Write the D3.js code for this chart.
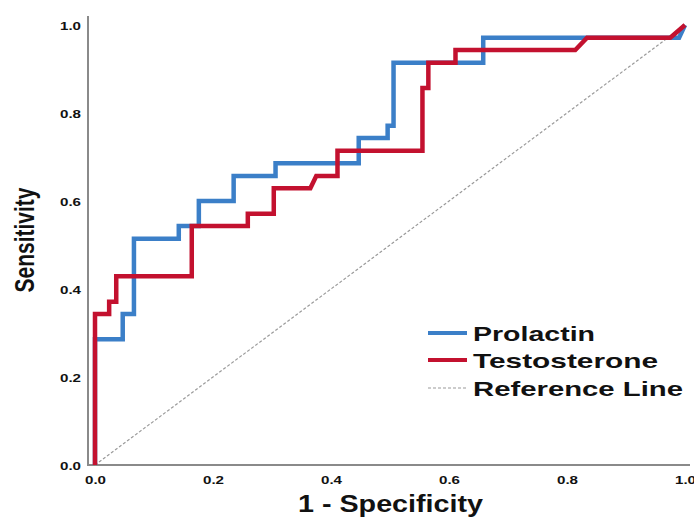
<!DOCTYPE html>
<html>
<head>
<meta charset="utf-8">
<script src="https://cdn.jsdelivr.net/npm/d3@7"></script>
<style>
  body { margin: 0; background: #fff; }
  text { font-family: "Liberation Sans", Arial, sans-serif; font-weight: bold; fill: #111; }
</style>
</head>
<body>
<div id="chart"></div>
<script>
// ROC curve vertices (1 - specificity, sensitivity)
const prolactinFpr = [0, 0, 0.047, 0.047, 0.066, 0.066, 0.142, 0.142, 0.176, 0.176, 0.235, 0.235, 0.306, 0.306, 0.447, 0.447, 0.496, 0.496, 0.506, 0.506, 0.658, 0.658, 0.99, 1];
const prolactinTpr = [0, 0.286, 0.286, 0.343, 0.343, 0.514, 0.514, 0.543, 0.543, 0.600, 0.600, 0.657, 0.657, 0.686, 0.686, 0.743, 0.743, 0.771, 0.771, 0.914, 0.914, 0.971, 0.971, 1];

const testoFpr = [0, 0, 0.024, 0.024, 0.036, 0.036, 0.164, 0.164, 0.259, 0.259, 0.303, 0.303, 0.365, 0.375, 0.411, 0.411, 0.555, 0.555, 0.565, 0.565, 0.611, 0.611, 0.814, 0.834, 0.975, 1];
const testoTpr = [0, 0.343, 0.343, 0.371, 0.371, 0.429, 0.429, 0.543, 0.543, 0.571, 0.571, 0.629, 0.629, 0.657, 0.657, 0.714, 0.714, 0.857, 0.857, 0.914, 0.914, 0.943, 0.943, 0.971, 0.971, 1];

const refLine = [0, 1];
const tickValues = [0, 0.2, 0.4, 0.6, 0.8, 1.0];
const seriesNames = ["Prolactin", "Testosterone", "Reference Line"];
const seriesColors = ["#3b7fc8", "#c3112f", "#9a9a9a"];

const width = 694, height = 523;
const svg = d3.select("#chart").append("svg")
    .attr("width", width)
    .attr("height", height);

const x = d3.scaleLinear().domain([0, 1]).range([95, 685]);
const y = d3.scaleLinear().domain([0, 1]).range([465, 25]);

// axis lines
svg.append("line")
    .attr("x1", 88).attr("x2", 88).attr("y1", 16).attr("y2", 466)
    .attr("stroke", "#8a8a8a").attr("stroke-width", 2);
svg.append("line")
    .attr("x1", 87).attr("x2", 690).attr("y1", 465).attr("y2", 465)
    .attr("stroke", "#8a8a8a").attr("stroke-width", 2);

// tick labels
const xAxis = svg.append("g")
    .attr("transform", "translate(0,473)")
    .call(d3.axisBottom(x).tickValues(tickValues).tickSize(0).tickFormat(d3.format(".1f")));
xAxis.select(".domain").remove();
xAxis.selectAll("text")
    .attr("font-size", 11)
    .attr("dy", "0.71em")
    .attr("textLength", 21)
    .attr("lengthAdjust", "spacingAndGlyphs");

const yAxis = svg.append("g")
    .attr("transform", "translate(81,0)")
    .call(d3.axisLeft(y).tickValues(tickValues).tickSize(0).tickFormat(d3.format(".1f")));
yAxis.select(".domain").remove();
yAxis.selectAll("text")
    .attr("x", 0)
    .attr("dy", "0.4em")
    .attr("font-size", 11)
    .attr("textLength", 21)
    .attr("lengthAdjust", "spacingAndGlyphs");

// reference line
svg.append("line")
    .attr("x1", x(refLine[0])).attr("y1", y(refLine[0]))
    .attr("x2", x(refLine[1])).attr("y2", y(refLine[1]))
    .attr("stroke", seriesColors[2])
    .attr("stroke-width", 1.2)
    .attr("stroke-dasharray", "3,2");

const line = d3.line()
    .x(d => x(d[0]))
    .y(d => y(d[1]));

svg.append("path")
    .datum(d3.zip(prolactinFpr, prolactinTpr))
    .attr("fill", "none")
    .attr("stroke", seriesColors[0])
    .attr("stroke-width", 4.5)
    .attr("d", line);

svg.append("path")
    .datum(d3.zip(testoFpr, testoTpr))
    .attr("fill", "none")
    .attr("stroke", seriesColors[1])
    .attr("stroke-width", 4.5)
    .attr("d", line);

// axis titles
svg.append("text")
    .attr("x", 298).attr("y", 512)
    .attr("font-size", 23)
    .attr("textLength", 185)
    .attr("lengthAdjust", "spacingAndGlyphs")
    .text("1 - Specificity");

svg.append("text")
    .attr("transform", "translate(34,240) scale(1.3,1) rotate(-90)")
    .attr("text-anchor", "middle")
    .attr("font-size", 21)
    .text("Sensitivity");

// legend
const legendY = [333, 360, 388];
const legendW = [122, 185, 210];
const legend = svg.append("g");
seriesNames.forEach((name, i) => {
    legend.append("line")
        .attr("x1", 428).attr("x2", 467)
        .attr("y1", legendY[i]).attr("y2", legendY[i])
        .attr("stroke", seriesColors[i])
        .attr("stroke-width", i < 2 ? 4 : 1.2)
        .attr("stroke-dasharray", i < 2 ? null : "3,2");
    legend.append("text")
        .attr("x", 473).attr("y", legendY[i] + 8)
        .attr("font-size", 21)
        .attr("textLength", legendW[i])
        .attr("lengthAdjust", "spacingAndGlyphs")
        .text(name);
});
</script>
</body>
</html>
